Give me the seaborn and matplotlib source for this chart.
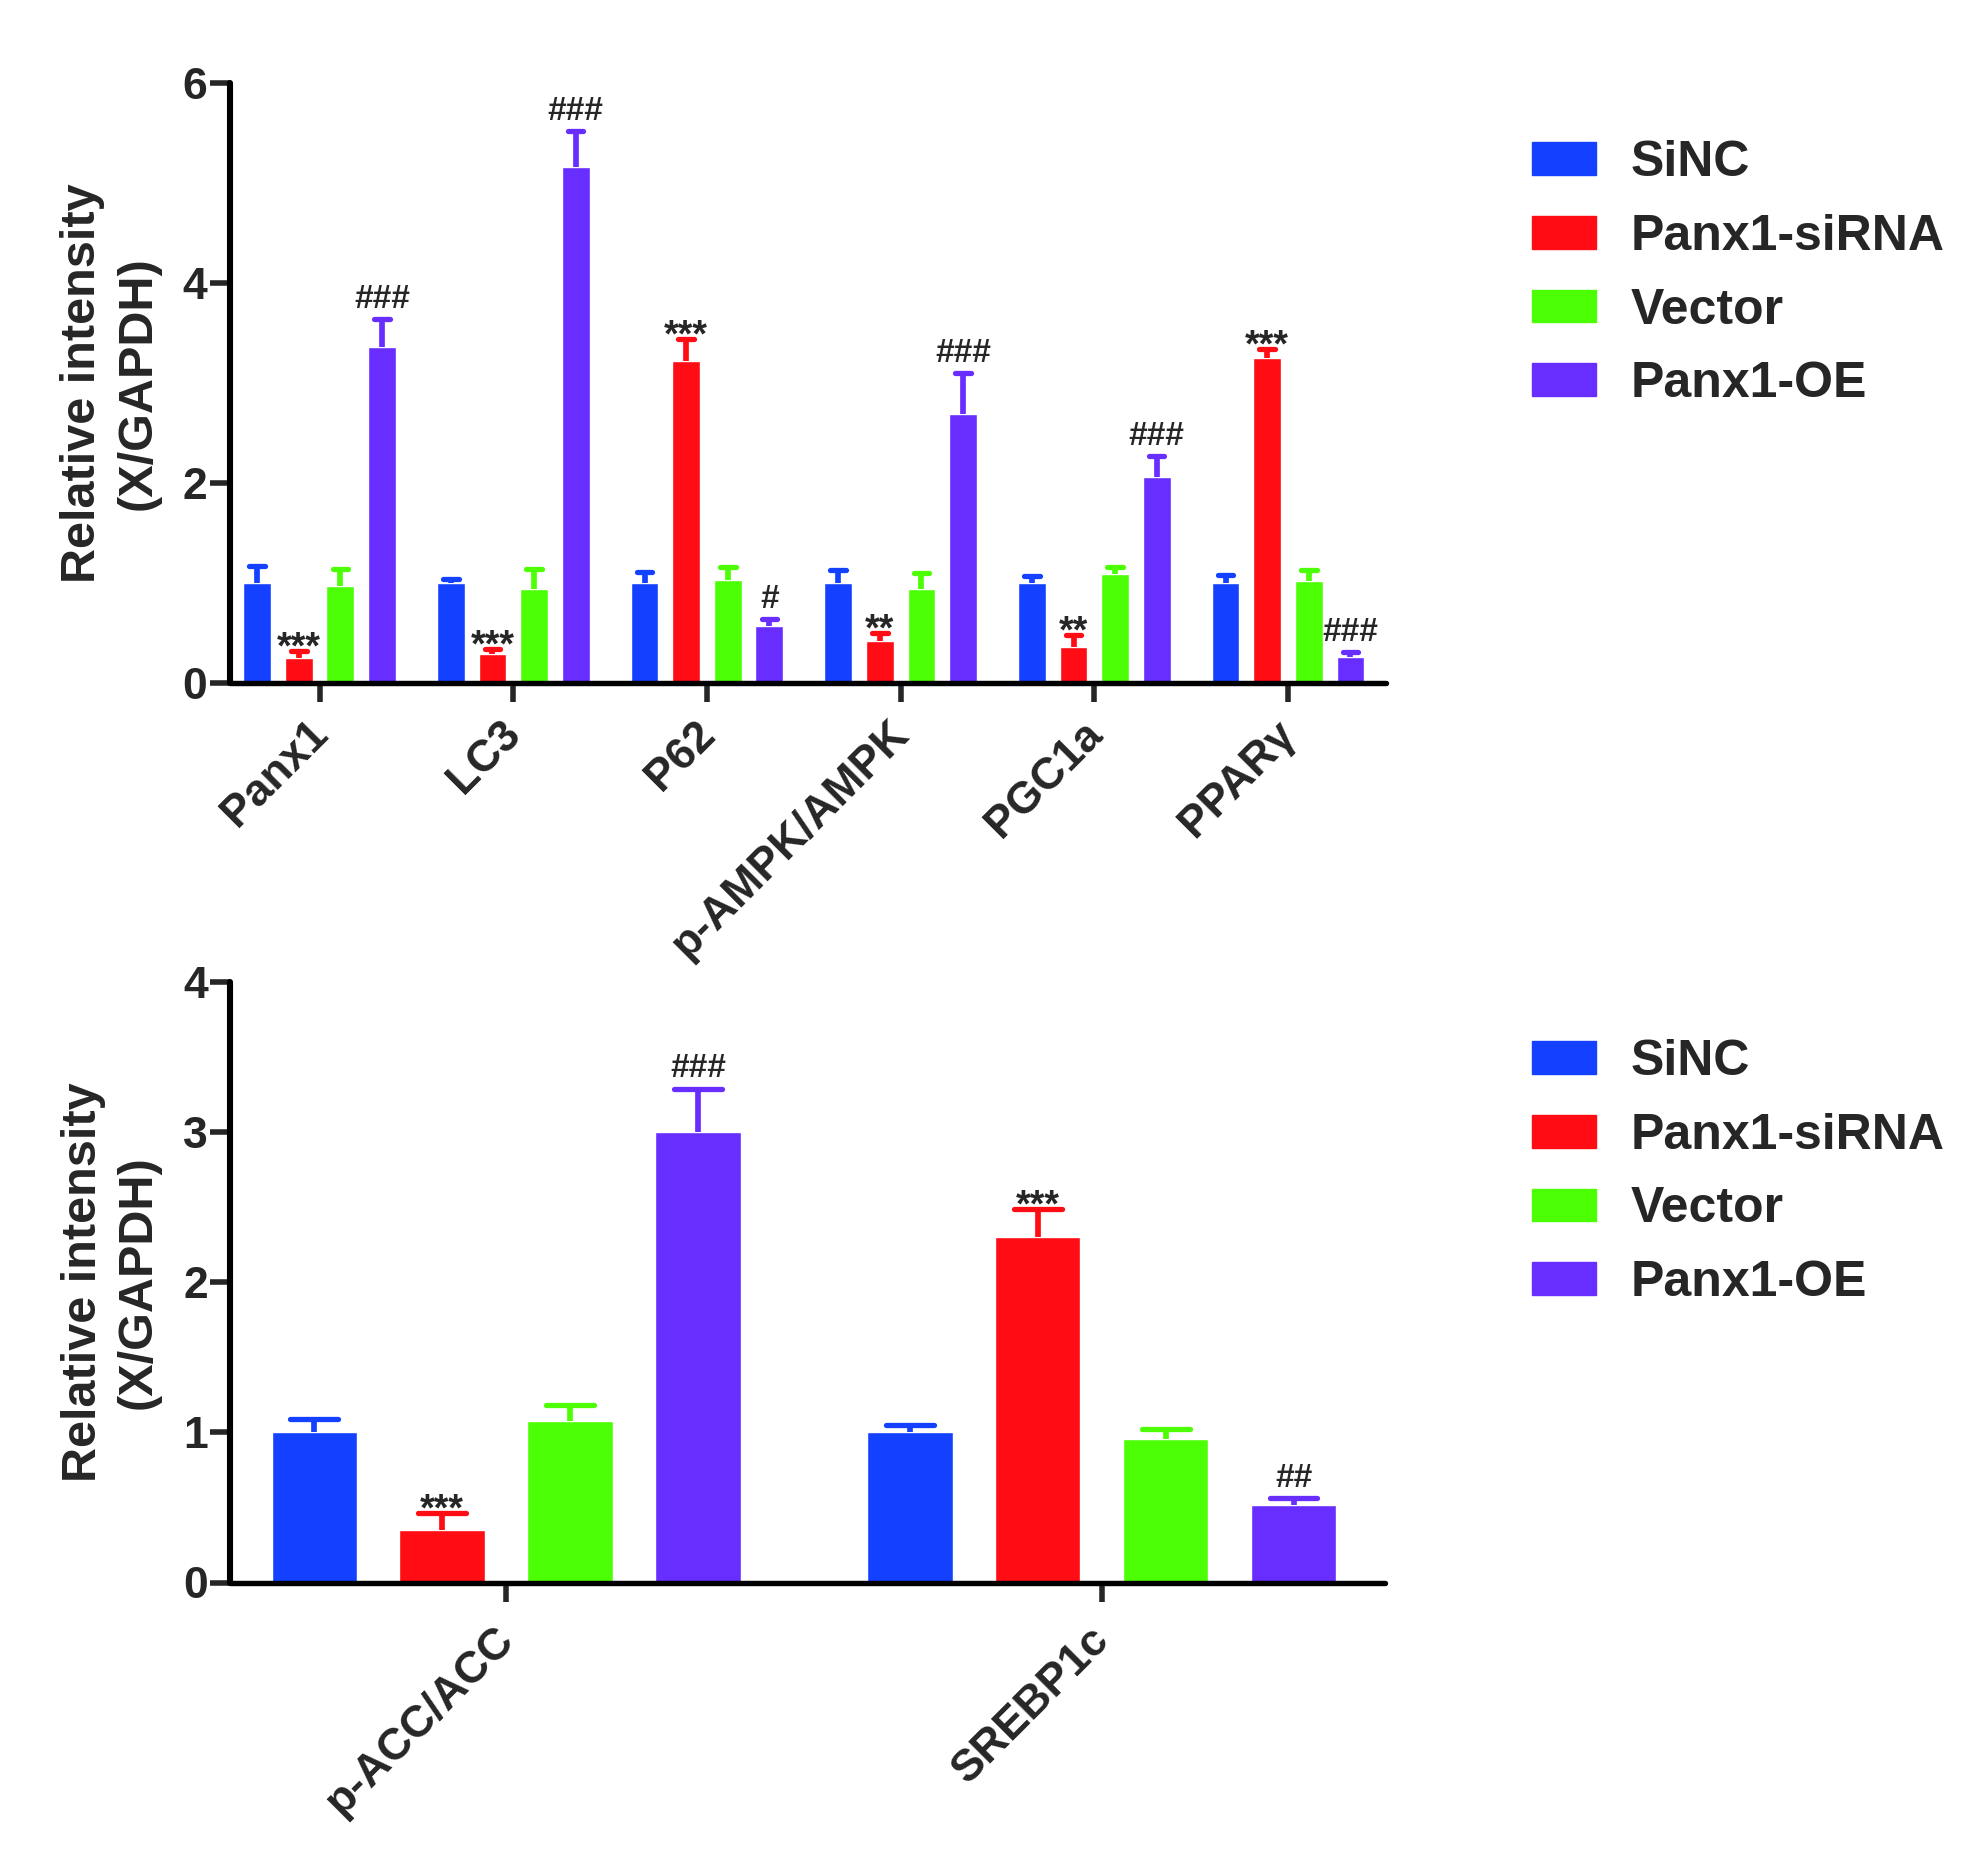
import numpy as np
import pandas as pd
import matplotlib
matplotlib.use("Agg")
import matplotlib.pyplot as plt
import matplotlib.transforms as mtransforms
import seaborn as sns

# =========================================
# DATA
# =========================================

groups = ["SiNC", "Panx1-siRNA", "Vector", "Panx1-OE"]
colors = ["#1441FF", "#FF0C14", "#4CFF05", "#672EFF"]

top_targets = ["Panx1", "LC3", "P62", "p-AMPK/AMPK", "PGC1a", "PPARγ"]
top_sinc = [1.00, 1.00, 1.00, 1.00, 1.00, 1.00]
top_sinc_err = [0.17, 0.04, 0.11, 0.13, 0.07, 0.08]
top_sirna = [0.25, 0.29, 3.22, 0.42, 0.36, 3.25]
top_sirna_err = [0.07, 0.05, 0.22, 0.08, 0.12, 0.09]
top_vector = [0.97, 0.94, 1.03, 0.94, 1.09, 1.02]
top_vector_err = [0.17, 0.20, 0.13, 0.16, 0.07, 0.11]
top_oe = [3.36, 5.16, 0.57, 2.69, 2.06, 0.26]
top_oe_err = [0.28, 0.36, 0.07, 0.41, 0.21, 0.05]
top_marks = [["", "***", "", "###"],
             ["", "***", "", "###"],
             ["", "***", "", "#"],
             ["", "**", "", "###"],
             ["", "**", "", "###"],
             ["", "***", "", "###"]]

bot_targets = ["p-ACC/ACC", "SREBP1c"]
bot_sinc = [1.00, 1.00]
bot_sinc_err = [0.09, 0.05]
bot_sirna = [0.35, 2.30]
bot_sirna_err = [0.11, 0.19]
bot_vector = [1.075, 0.956]
bot_vector_err = [0.11, 0.07]
bot_oe = [3.005, 0.517]
bot_oe_err = [0.285, 0.045]
bot_marks = [["", "***", "", "###"],
             ["", "***", "", "##"]]


def long_table(targets, vals, errs):
    rows = []
    for g, v, e in zip(groups, vals, errs):
        for t, vv, ee in zip(targets, v, e):
            rows.append({"target": t, "group": g, "value": vv, "err": ee})
    return pd.DataFrame(rows)


top_df = long_table(top_targets,
                    [top_sinc, top_sirna, top_vector, top_oe],
                    [top_sinc_err, top_sirna_err, top_vector_err, top_oe_err])
bot_df = long_table(bot_targets,
                    [bot_sinc, bot_sirna, bot_vector, bot_oe],
                    [bot_sinc_err, bot_sirna_err, bot_vector_err, bot_oe_err])

# =========================================
# STYLE
# =========================================

sns.set_style("white")
plt.rcParams["font.family"] = ["Liberation Sans", "DejaVu Sans"]

fig = plt.figure(figsize=(19.85, 18.63), dpi=100)

ax_top = fig.add_axes([229.7 / 1985, 1 - 683.3 / 1863,
                       1156.3 / 1985, 600 / 1863])
ax_bot = fig.add_axes([230.3 / 1985, 1 - 1582.5 / 1863,
                       1154.7 / 1985, 600.2 / 1863])


def draw_panel(ax, df, targets, marks, ylim, yticks, xlim, label_pad):
    sns.barplot(
        data=df, x="target", y="value", hue="group",
        order=targets, hue_order=groups, palette=colors,
        errorbar=None, width=0.859, gap=0.333,
        saturation=1, ax=ax, legend=False,
    )
    bar_conts = list(ax.containers)

    # error bars (upper only) and significance marks
    for gi, cont in enumerate(bar_conts):
        sub = df[df["group"] == groups[gi]].set_index("target").loc[targets]
        for ti, bar in enumerate(cont):
            w = bar.get_width()
            x = bar.get_x() + w / 2
            h = sub["value"].iloc[ti]
            e = sub["err"].iloc[ti]
            ax.vlines(x, h, h + e, colors=colors[gi], linewidth=4.1,
                      zorder=3)
            ax.hlines(h + e, x - w * 0.28, x + w * 0.28,
                      colors=colors[gi], linewidth=3.8,
                      capstyle="round", zorder=3)
            m = marks[ti][gi]
            if m:
                if "#" in m:
                    off, fs = 8.4, 24
                else:
                    off, fs = -5.3, 27
                ax.annotate(
                    m, xy=(x, h + e), xytext=(0, off),
                    textcoords="offset points",
                    ha="center", va="baseline",
                    fontsize=fs, fontweight="bold",
                )

    ax.set_xlim(*xlim)
    ax.set_ylim(*ylim)
    ax.set_yticks(yticks)
    ax.set_yticklabels([str(t) for t in yticks])

    for s in ["top", "right"]:
        ax.spines[s].set_visible(False)
    ax.spines["left"].set_linewidth(4.4)
    ax.spines["bottom"].set_linewidth(3.9)
    for s in ["left", "bottom"]:
        ax.spines[s].set_color("black")
        ax.spines[s].set_capstyle("round")
        ax.spines[s].set_zorder(5)

    ax.tick_params(axis="y", direction="out", length=14.5, width=4,
                   pad=1.5, labelsize=32, left=True)
    ax.tick_params(axis="x", direction="out", length=13.5, width=4,
                   pad=label_pad, bottom=True)
    for lab in ax.get_yticklabels():
        lab.set_fontweight("bold")

    ax.set_xticks(range(len(targets)))
    ax.set_xticklabels(targets, rotation=45, ha="right",
                       rotation_mode="anchor", fontsize=32,
                       fontweight="bold")
    shift = mtransforms.ScaledTranslation(-13 / 100, 0, fig.dpi_scale_trans)
    for lab in ax.get_xticklabels():
        lab.set_transform(lab.get_transform() + shift)

    ax.set_xlabel("")
    ax.set_ylabel("Relative intensity\n(X/GAPDH)", fontsize=35,
                  fontweight="bold", linespacing=1.3)
    ax.yaxis.set_label_coords(-0.060, 0.5)


draw_panel(ax_top, top_df, top_targets, top_marks,
           ylim=(0, 6), yticks=[0, 2, 4, 6],
           xlim=(-0.464, 5.506), label_pad=8)
draw_panel(ax_bot, bot_df, bot_targets, bot_marks,
           ylim=(0, 4), yticks=[0, 1, 2, 3, 4],
           xlim=(-0.463, 1.4756), label_pad=13)

# =========================================
# LEGENDS
# =========================================

for top_px in [140, 1039]:
    handles = [plt.Rectangle((0, 0), 1, 1, color=c) for c in colors]
    fig.legend(
        handles, groups,
        loc="upper left",
        bbox_to_anchor=(1532.3 / 1985, 1 - top_px / 1863),
        frameon=False, borderpad=0, borderaxespad=0,
        handlelength=1.27, handleheight=0.63, handletextpad=0.7,
        labelspacing=0.555,
        prop={"family": "Liberation Sans", "weight": "bold", "size": 36},
    )

plt.savefig("out.png", dpi=100)
plt.close()
